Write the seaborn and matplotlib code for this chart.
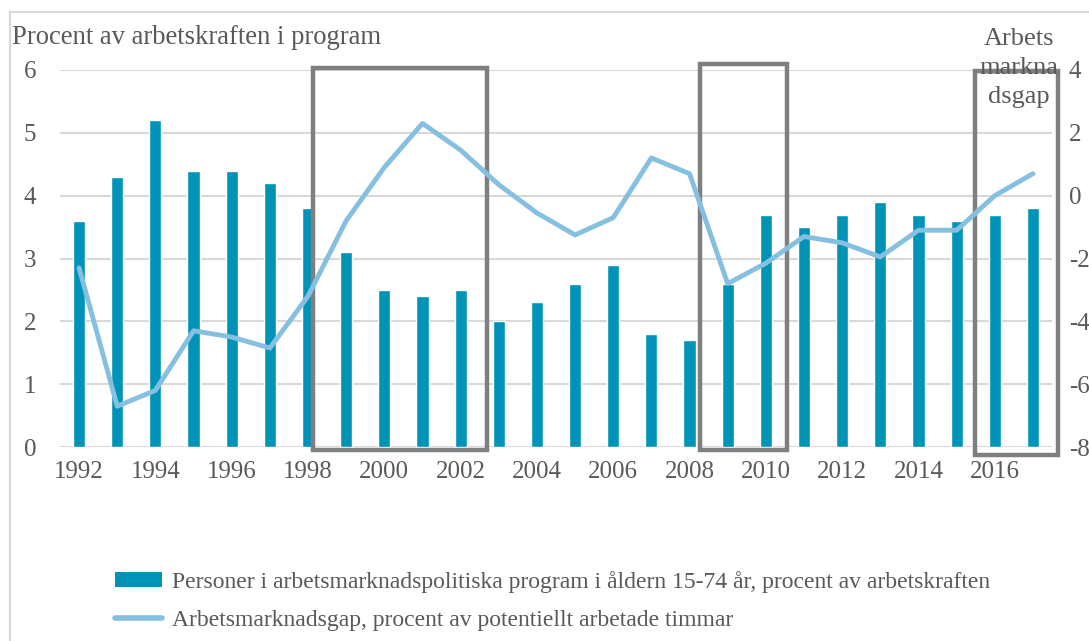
"""Arbetsmarknadsprogram och arbetsmarknadsgap 1992-2017."""

import matplotlib.pyplot as plt
from matplotlib.lines import Line2D
from matplotlib.patches import Patch, Rectangle
import seaborn as sns

sns.set_theme(style="white")
plt.rcParams["font.family"] = ["Liberation Serif", "DejaVu Serif"]
plt.rcParams["axes.unicode_minus"] = False

years = list(range(1992, 2018))
program_share = [3.6, 4.3, 5.2, 4.4, 4.4, 4.2, 3.8, 3.1, 2.5, 2.4, 2.5, 2.0, 2.3,
                 2.6, 2.9, 1.8, 1.7, 2.6, 3.7, 3.5, 3.7, 3.9, 3.7, 3.6, 3.7, 3.8]
labour_gap = [-2.3, -6.7, -6.2, -4.3, -4.5, -4.85, -3.2, -0.8, 0.9, 2.3, 1.45, 0.35, -0.55,
              -1.25, -0.7, 1.2, 0.7, -2.8, -2.15, -1.3, -1.5, -1.95, -1.1, -1.1, 0.0, 0.7]
left_ticks = [0, 1, 2, 3, 4, 5, 6]
right_ticks = [-8, -6, -4, -2, 0, 2, 4]
x_ticks = list(range(1992, 2018, 2))
# highlighted periods: (start, end, top on left axis, bottom on left axis)
boxes = [(1998.13, 2002.69, 6.03, -0.05),
         (2008.27, 2010.55, 6.1, -0.05),
         (2015.48, 2017.65, 5.98, -0.13)]

bar_color = "#0093b8"
line_color = "#86c0e0"
text_color = "#595959"

fig = plt.figure(figsize=(10.89, 6.41), dpi=100)
ax = fig.add_axes([60 / 1089, 194 / 641, 992 / 1089, 377 / 641])

sns.barplot(x=years, y=program_share, native_scale=True, color=bar_color,
            width=0.32, saturation=1, ax=ax, zorder=2)
ax.set_xlim(1991.5, 2017.5)
ax.set_ylim(0, 6)
ax.set_yticks(left_ticks)
ax.set_xticks(x_ticks)
ax.set_xticklabels([str(y) for y in x_ticks])
ax.grid(axis="y", color="#d9d9d9", linewidth=1.5, zorder=0)
ax.set_axisbelow(True)
ax.tick_params(axis="both", length=0, labelsize=18, colors=text_color)
ax.tick_params(axis="x", pad=10)
ax.tick_params(axis="y", pad=17)
ax.set_xlabel("")
ax.set_ylabel("")
sns.despine(ax=ax, left=True, bottom=True)

ax2 = ax.twinx()
sns.lineplot(x=years, y=labour_gap, color=line_color, linewidth=3.5, ax=ax2)
ax2.set_ylim(-8, 4)
ax2.set_yticks(right_ticks)
ax2.tick_params(axis="y", length=0, labelsize=18, colors=text_color, pad=12)
ax2.set_ylabel("")
sns.despine(ax=ax2, left=True, bottom=True, right=True)

for start, end, top, bottom in boxes:
    ax.add_patch(Rectangle((start, bottom), end - start, top - bottom, fill=False,
                           edgecolor="#7f7f7f", linewidth=3.2, clip_on=False, zorder=5))

fig.text(12 / 1089, 1 - 37 / 641, "Procent av arbetskraften i program", fontsize=19.2,
         color=text_color, va="center", ha="left")
fig.text(1019 / 1089, 1 - 68 / 641, "Arbets\nmarkna\ndsgap", fontsize=19,
         color=text_color, va="center", ha="center", linespacing=1.4, zorder=1)

# light frame around the whole chart
fig.add_artist(Rectangle((10 / 1089, -0.1), 1.2, 1 - 12 / 641 + 0.1, fill=False,
                         edgecolor="#d9d9d9", linewidth=1.5, transform=fig.transFigure))

handles = [Patch(facecolor=bar_color, edgecolor="none"),
           Line2D([0], [0], color=line_color, linewidth=4)]
labels = ["Personer i arbetsmarknadspolitiska program i åldern 15-74 år, procent av arbetskraften",
          "Arbetsmarknadsgap, procent av potentiellt arbetade timmar"]
fig.legend(handles, labels, loc="upper left", bbox_to_anchor=(94 / 1089, 1 - 550 / 641),
           frameon=False, fontsize=17, labelcolor=text_color, handlelength=2.0,
           handleheight=0.6, handletextpad=0.4, labelspacing=0.7)

fig.savefig("out.png", dpi=100)
